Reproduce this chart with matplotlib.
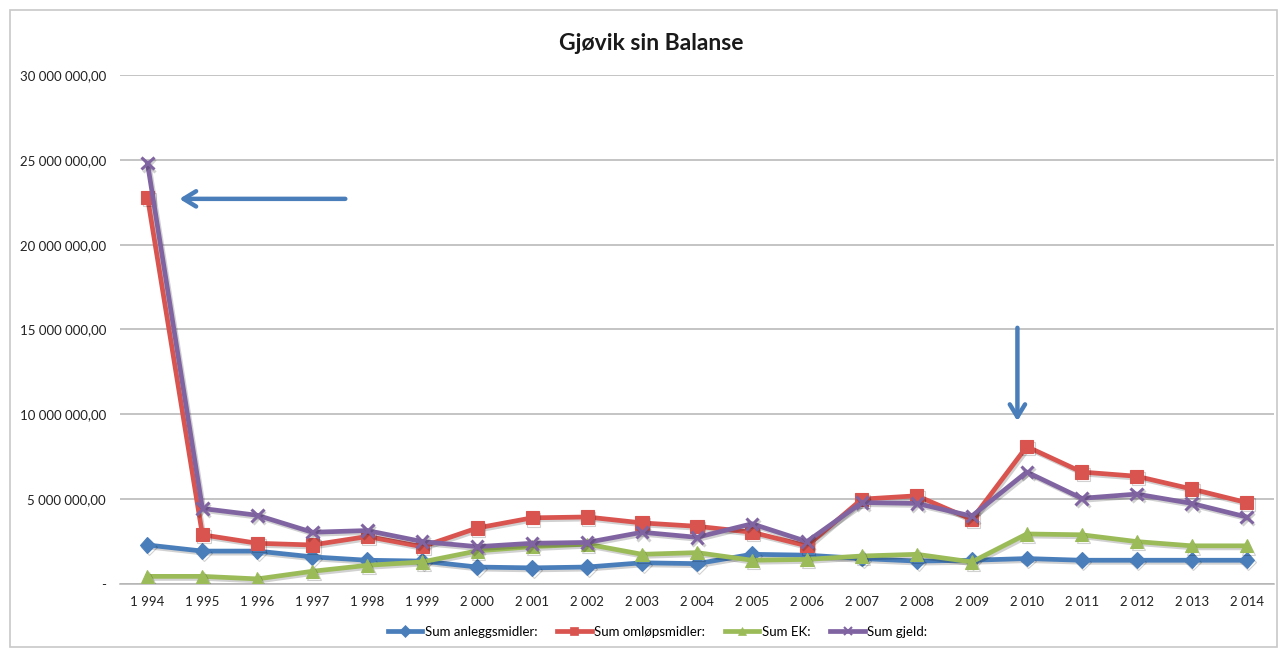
import matplotlib
matplotlib.use('Agg')
import matplotlib.pyplot as plt
import matplotlib.patheffects as pe
from matplotlib.lines import Line2D
from matplotlib.patches import Rectangle
import numpy as np

plt.rcParams['font.family'] = ['Lato', 'DejaVu Sans']

years = list(range(1994, 2015))
year_labels = [f"{str(y)[0]} {str(y)[1:]}" for y in years]

# Verdier i millioner kroner per år
anleggsmidler = [2.30, 1.94, 1.94, 1.60, 1.40, 1.35, 1.00, 0.95, 1.00, 1.25, 1.20,
                 1.75, 1.70, 1.50, 1.35, 1.40, 1.50, 1.40, 1.40, 1.40, 1.40]
omlopsmidler = [22.8, 2.90, 2.40, 2.30, 2.80, 2.20, 3.30, 3.90, 3.95, 3.60, 3.40,
                3.05, 2.25, 5.00, 5.20, 3.80, 8.10, 6.60, 6.35, 5.60, 4.80]
egenkapital = [0.45, 0.45, 0.30, 0.75, 1.10, 1.30, 1.95, 2.20, 2.35, 1.75, 1.85,
               1.40, 1.45, 1.65, 1.75, 1.30, 2.95, 2.90, 2.50, 2.25, 2.25]
gjeld = [24.8, 4.45, 4.05, 3.05, 3.15, 2.50, 2.20, 2.40, 2.45, 3.05, 2.75,
         3.55, 2.50, 4.80, 4.75, 4.00, 6.60, 5.05, 5.30, 4.75, 3.95]

series = [
    ("Sum anleggsmidler:", anleggsmidler, "#4A7EBB", "D", 8),
    ("Sum omløpsmidler:", omlopsmidler, "#D9534F", "s", 9.5),
    ("Sum EK:", egenkapital, "#9BBB59", "^", 9.5),
    ("Sum gjeld:", gjeld, "#8064A2", "x", 9),
]

y_ticks = [0, 5e6, 10e6, 15e6, 20e6, 25e6, 30e6]
y_tick_labels = ["-", "5 000 000,00", "10 000 000,00", "15 000 000,00",
                 "20 000 000,00", "25 000 000,00", "30 000 000,00"]

fig = plt.figure(figsize=(12.82, 6.55), dpi=100)
fig.patches.append(Rectangle((0.008, 0.012), 0.988, 0.973, transform=fig.transFigure,
                             fill=False, edgecolor="#c8c8c8", linewidth=1.2))
ax = fig.add_axes([0.0936, 0.1084, 0.9002, 0.7771])

x = np.arange(len(years))
handles = []
for name, vals, color, marker, ms in series:
    vals = np.array(vals) * 1e6
    ax.plot(x, vals, color=color, linewidth=3.4, marker=marker, markersize=ms,
            markerfacecolor=color, markeredgecolor=color,
            markeredgewidth=2.2 if marker == "x" else 0.8, zorder=3,
            path_effects=[pe.SimpleLineShadow(offset=(1.2, -1.5), alpha=0.18),
                          pe.Normal()])
    handles.append(Line2D([0], [0], color=color, linewidth=3.4, marker=marker,
                          markersize=6, markerfacecolor=color, markeredgecolor=color,
                          markeredgewidth=1.5 if marker == "x" else 0.5))

ax.set_xlim(-0.5, len(years) - 0.5)
ax.set_ylim(0, 30e6)
ax.set_xticks(x)
ax.set_xticklabels(year_labels, fontsize=9.5, color="#222222")
ax.set_yticks(y_ticks)
ax.set_yticklabels(y_tick_labels, fontsize=9.5, color="#222222")
ax.tick_params(axis='both', length=0, pad=9)
ax.tick_params(axis='y', pad=10)
ax.grid(axis='y', color="#b4b4b4", linewidth=1.1)
ax.set_axisbelow(True)
for side in ["top", "right", "left"]:
    ax.spines[side].set_visible(False)
ax.spines["bottom"].set_color("#b4b4b4")
ax.spines["bottom"].set_linewidth(1.1)

# piler som markerer 1994 og 2010
arrow_kw = dict(arrowstyle="->,head_length=0.9,head_width=0.55", color="#4A7EBB",
                linewidth=3.2, shrinkA=0, shrinkB=0)
ax.annotate("", xy=(0.58, 22.7e6), xytext=(3.6, 22.7e6), arrowprops=arrow_kw)
ax.annotate("", xy=(15.83, 9.6e6), xytext=(15.83, 15.1e6), arrowprops=arrow_kw)

fig.text(0.508, 0.934, "Gjøvik sin Balanse", ha="center", va="center",
         fontsize=16.5, fontweight="bold", color="#1a1a1a")

fig.legend(handles, [s[0] for s in series], loc="center", bbox_to_anchor=(0.513, 0.035),
           ncol=4, frameon=False, fontsize=9.5, handlelength=2.6, handletextpad=0.2,
           columnspacing=1.5)

fig.savefig("out.png", dpi=100, facecolor="white")
